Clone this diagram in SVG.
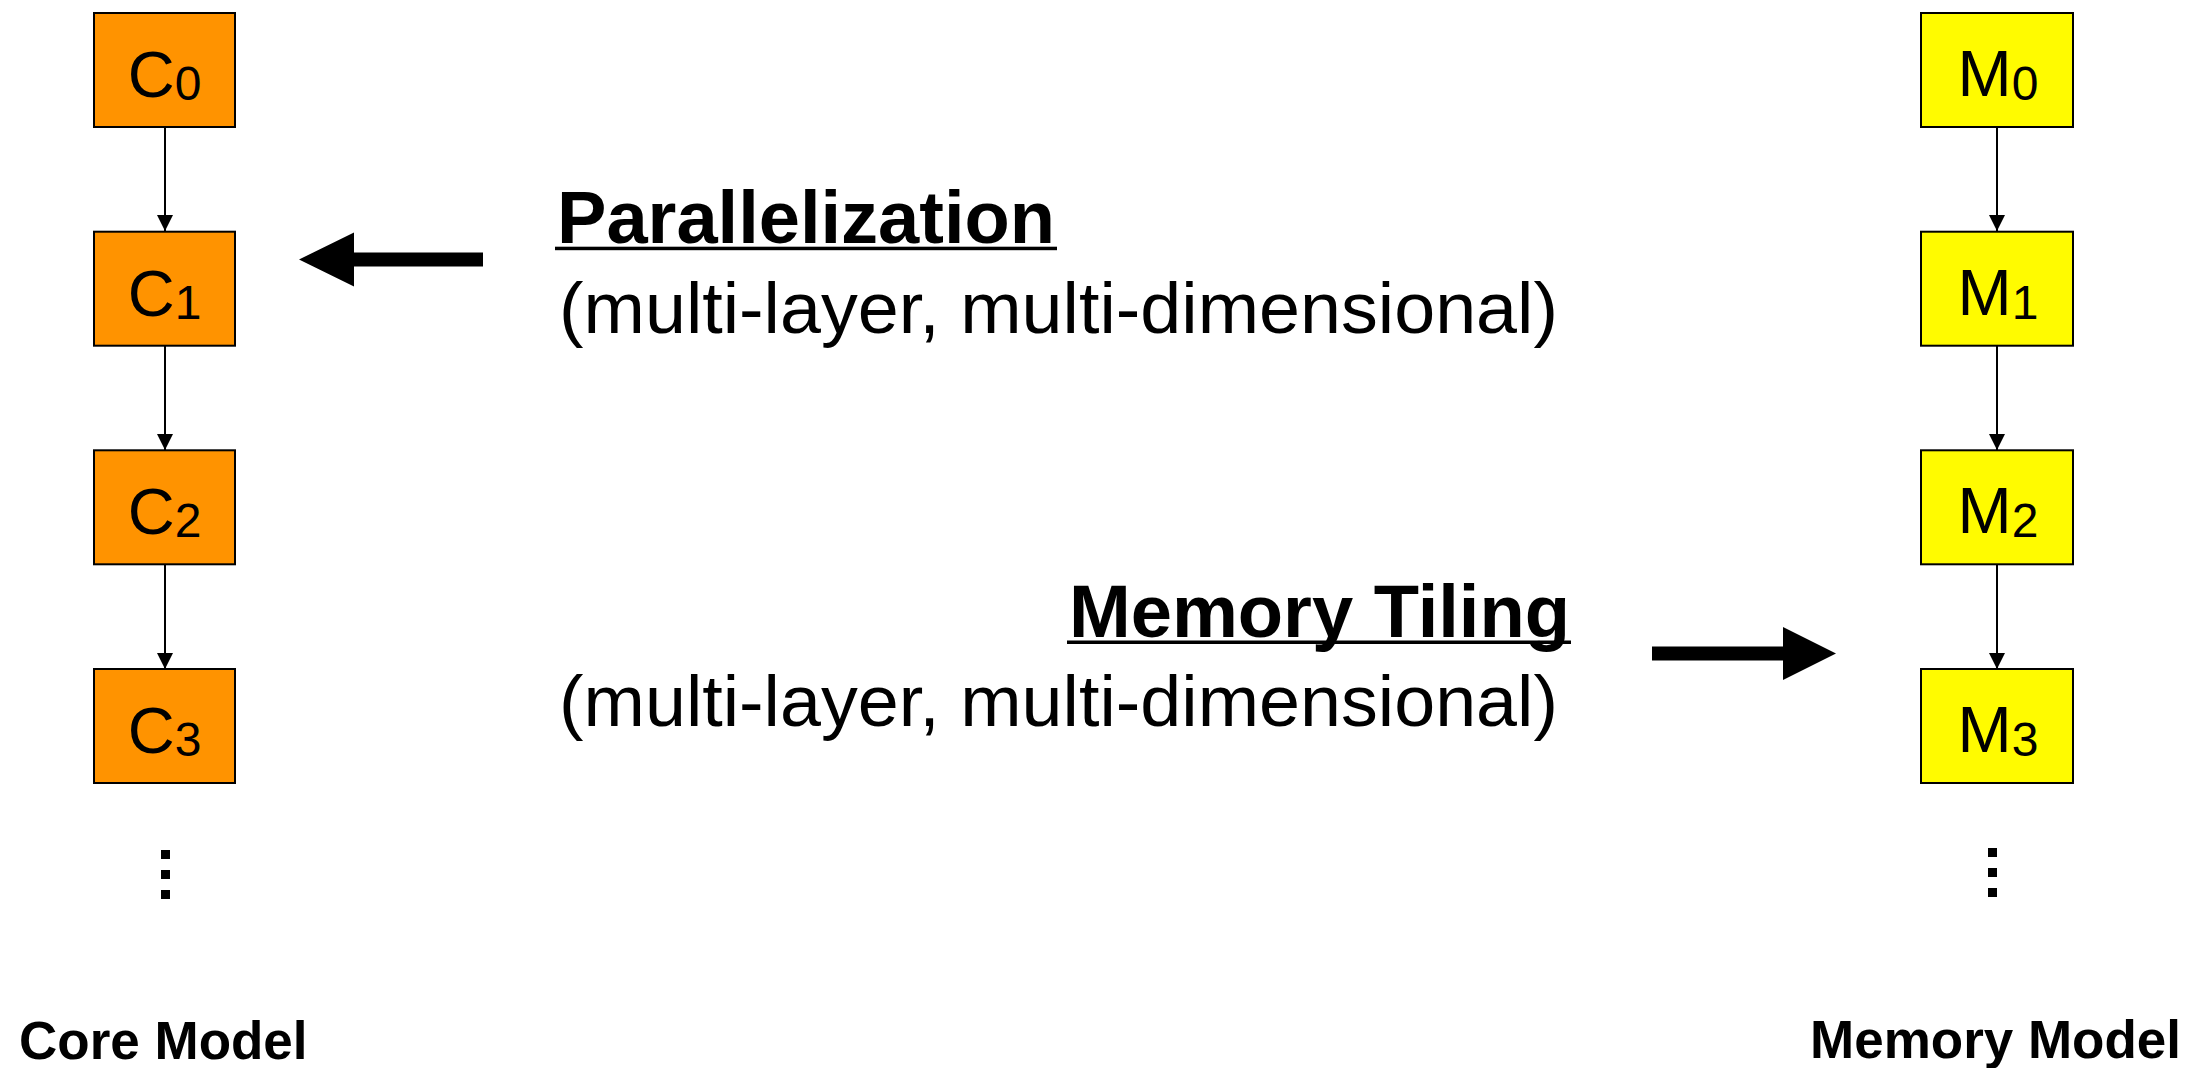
<svg xmlns="http://www.w3.org/2000/svg" width="2206" height="1068" viewBox="0 0 2206 1068">
<style>
.core{fill:#FF9300;stroke:#000;stroke-width:2}
.mem{fill:#FFFB00;stroke:#000;stroke-width:2}
.lbl{font-family:"Liberation Sans",Arial,sans-serif;font-size:65px;fill:#000;text-anchor:middle}
.sub{font-size:48px}
.title{font-family:"Liberation Sans",Arial,sans-serif;font-weight:bold;font-size:74px;fill:#000}
.desc{font-family:"Liberation Sans",Arial,sans-serif;font-size:73px;fill:#000}
.cap{font-family:"Liberation Sans",Arial,sans-serif;font-weight:bold;font-size:53px;fill:#000}
.conn{stroke:#000;stroke-width:2;fill:none}
</style>
<defs>
<marker id="ah" markerUnits="userSpaceOnUse" markerWidth="16" markerHeight="18" refX="16" refY="8" orient="auto">
<path d="M0,0 L16,8 L0,16 Z" fill="#000"/>
</marker>
</defs>
<rect width="2206" height="1068" fill="#fff"/>
<g id="connectors">
<line class="conn" x1="165" y1="127" x2="165" y2="231" marker-end="url(#ah)"/>
<line class="conn" x1="165" y1="346" x2="165" y2="450" marker-end="url(#ah)"/>
<line class="conn" x1="165" y1="565" x2="165" y2="669" marker-end="url(#ah)"/>
<line class="conn" x1="1997" y1="127" x2="1997" y2="231" marker-end="url(#ah)"/>
<line class="conn" x1="1997" y1="346" x2="1997" y2="450" marker-end="url(#ah)"/>
<line class="conn" x1="1997" y1="565" x2="1997" y2="669" marker-end="url(#ah)"/>
</g>
<g id="C0"><rect class="core" x="94" y="13" width="141" height="114"/><text class="lbl" x="164.5" y="97">C<tspan class="sub" dy="3">0</tspan></text></g>
<g id="C1"><rect class="core" x="94" y="231.7" width="141" height="114"/><text class="lbl" x="164.5" y="315.7">C<tspan class="sub" dy="3">1</tspan></text></g>
<g id="C2"><rect class="core" x="94" y="450.3" width="141" height="114"/><text class="lbl" x="164.5" y="534.3">C<tspan class="sub" dy="3">2</tspan></text></g>
<g id="C3"><rect class="core" x="94" y="669" width="141" height="114"/><text class="lbl" x="164.5" y="753">C<tspan class="sub" dy="3">3</tspan></text></g>
<g id="M0"><rect class="mem" x="1921" y="13" width="152" height="114"/><text class="lbl" x="1998" y="96">M<tspan class="sub" dy="4">0</tspan></text></g>
<g id="M1"><rect class="mem" x="1921" y="231.7" width="152" height="114"/><text class="lbl" x="1998" y="314.7">M<tspan class="sub" dy="4">1</tspan></text></g>
<g id="M2"><rect class="mem" x="1921" y="450.3" width="152" height="114"/><text class="lbl" x="1998" y="533.3">M<tspan class="sub" dy="4">2</tspan></text></g>
<g id="M3"><rect class="mem" x="1921" y="669" width="152" height="114"/><text class="lbl" x="1998" y="752">M<tspan class="sub" dy="4">3</tspan></text></g>
<g id="core-dots" fill="#000">
<rect x="161" y="850" width="9" height="9"/><rect x="161" y="870" width="9" height="9"/><rect x="161" y="890" width="9" height="9"/>
</g>
<g id="mem-dots" fill="#000">
<rect x="1988" y="848" width="9" height="9"/><rect x="1988" y="868" width="9" height="9"/><rect x="1988" y="888" width="9" height="9"/>
</g>
<g id="parallelization">
<text class="title" x="557" y="242.7" textLength="498" lengthAdjust="spacingAndGlyphs">Parallelization</text>
<rect x="555" y="246.7" width="502" height="3.5" fill="#000"/>
<text class="desc" x="559" y="333.3" textLength="999" lengthAdjust="spacingAndGlyphs">(multi-layer, multi-dimensional)</text>
<path d="M299,259.5 L354,232.5 L354,252.5 L483,252.5 L483,266.5 L354,266.5 L354,286.5 Z" fill="#000"/>
</g>
<g id="memory-tiling">
<text class="title" x="1069" y="637.3" textLength="501" lengthAdjust="spacingAndGlyphs">Memory Tiling</text>
<rect x="1067" y="640.5" width="504" height="3.5" fill="#000"/>
<text class="desc" x="559" y="725.5" textLength="999" lengthAdjust="spacingAndGlyphs">(multi-layer, multi-dimensional)</text>
<path d="M1836,653.5 L1783,627 L1783,646.5 L1652,646.5 L1652,660.5 L1783,660.5 L1783,680 Z" fill="#000"/>
</g>
<text id="core-model" class="cap" x="19" y="1059">Core Model</text>
<text id="memory-model" class="cap" x="1810" y="1058">Memory Model</text>
</svg>
